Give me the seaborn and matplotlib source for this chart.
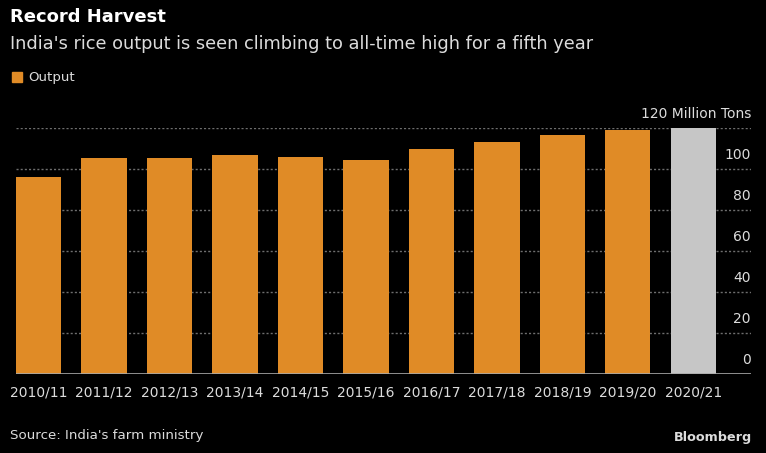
import matplotlib
matplotlib.use("Agg")
import matplotlib.pyplot as plt
import matplotlib.patches as mpatches
import seaborn as sns
import pandas as pd

seasons = ["2010/11", "2011/12", "2012/13", "2013/14", "2014/15", "2015/16",
           "2016/17", "2017/18", "2018/19", "2019/20", "2020/21"]
output = [96.0, 105.3, 105.2, 106.7, 105.8, 104.4, 109.7, 112.8, 116.4, 118.6, 120.0]
y_ticks = [0, 20, 40, 60, 80, 100, 120]

ORANGE = "#E08B26"
GREY = "#C6C6C6"
TXT = "#DCDCDC"

sns.set_style("dark")
plt.rcParams["font.family"] = ["DejaVu Sans"]

W, H = 766, 453
fig = plt.figure(figsize=(W / 100, H / 100), dpi=100, facecolor="black")
# axes placed in pixels: left 16, right 751, bottom 374, top 127.5
ax = fig.add_axes([16 / W, (H - 374) / H, (751 - 16) / W, (374 - 127.5) / H])
ax.set_facecolor("black")

df = pd.DataFrame({"season": seasons, "output": output})
colors = [ORANGE] * (len(seasons) - 1) + [GREY]
sns.barplot(data=df, x="season", y="output", hue="season", palette=colors,
            legend=False, width=0.69, saturation=1, ax=ax, zorder=3,
            edgecolor="none", linewidth=0)

ax.set_xlim(-0.345, 10.88)
ax.set_ylim(0, 120)
ax.set_xlabel("")
ax.set_ylabel("")
ax.set_yticks([])
for s in ax.spines.values():
    s.set_visible(False)
ax.grid(False)

for t in y_ticks[1:]:
    ax.axhline(t, color="#6E6E6E", lw=1.0, ls=(0, (1.5, 1.5)), zorder=1)
ax.axhline(0, color="#A8A8A8", lw=1.2, zorder=4)

for t in y_ticks:
    label = "120 Million Tons" if t == 120 else str(t)
    ax.annotate(label, xy=(1.0, t), xycoords=("axes fraction", "data"),
                xytext=(0, 5), textcoords="offset points",
                ha="right", va="bottom", color=TXT, fontsize=10)

ax.tick_params(axis="x", length=0, pad=8, labelsize=10, labelcolor=TXT)

fig.text(10 / W, 1 - 17 / H, "Record Harvest", color="white", fontsize=13,
         fontweight="bold", va="center", ha="left")
fig.text(10 / W, 1 - 44 / H,
         "India's rice output is seen climbing to all-time high for a fifth year",
         color=TXT, fontsize=12.8, va="center", ha="left")
fig.patches.append(mpatches.Rectangle((12 / W, 1 - 82 / H), 10 / W, 10 / H,
                                      transform=fig.transFigure, color=ORANGE))
fig.text(28 / W, 1 - 77 / H, "Output", color=TXT, fontsize=9.6,
         va="center", ha="left")
fig.text(10 / W, 1 - 435 / H, "Source: India's farm ministry", color=TXT,
         fontsize=9.6, va="center", ha="left")
fig.text(752 / W, 1 - 438 / H, "Bloomberg", color=TXT, fontsize=9.2,
         fontweight="heavy", va="center", ha="right")

fig.savefig("out.png", dpi=100, facecolor="black")
